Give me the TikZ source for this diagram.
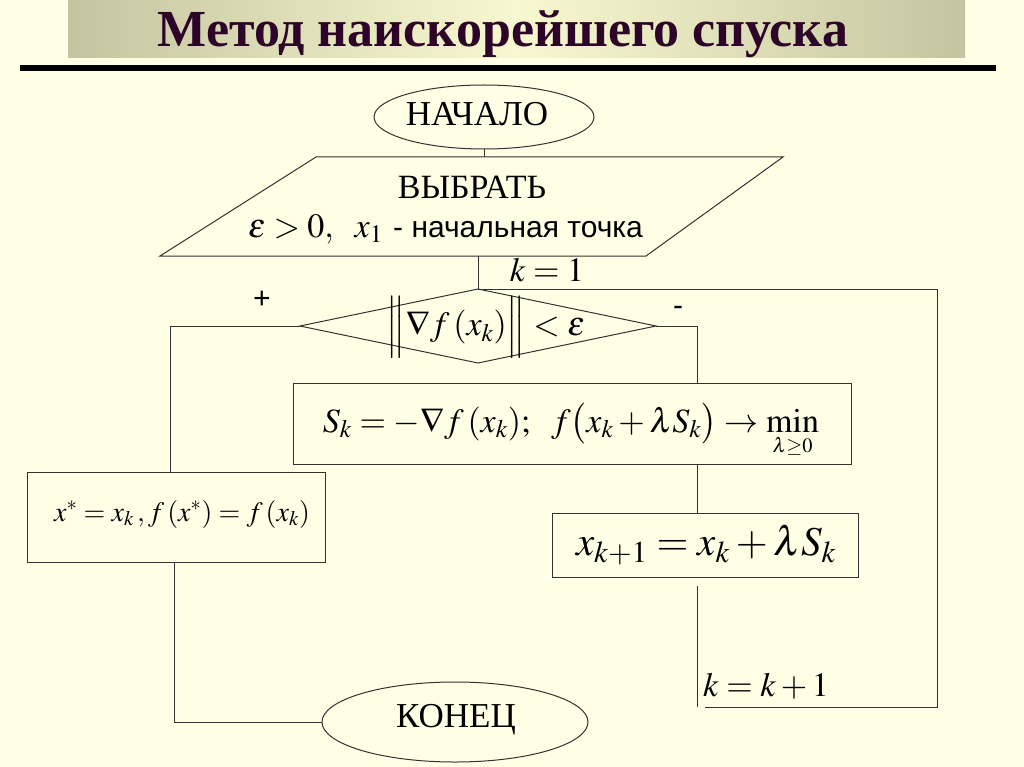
\documentclass[tikz,border=0pt]{standalone}
\usepackage{mathptmx}
\usepackage[no-math]{fontspec}
\setmainfont{Liberation Serif}
\newfontfamily\arialf{Liberation Sans}
\usetikzlibrary{shapes.geometric}
\definecolor{bg}{RGB}{255,255,230}
\definecolor{titleedge}{RGB}{196,196,160}
\definecolor{titlemid}{RGB}{248,248,208}
\definecolor{titletext}{RGB}{45,5,40}
\definecolor{ln}{RGB}{50,50,50}
\begin{document}
\begin{tikzpicture}[x=1pt,y=-1pt,
  conn/.style={draw=ln, line width=1pt},
  box/.style={draw=ln, line width=1pt, inner sep=0pt, rectangle},
  oval/.style={draw=ln, line width=1pt, inner sep=0pt, ellipse},
  txt/.style={inner sep=0pt, font=\fontsize{34}{40}\selectfont},
  sans/.style={inner sep=0pt, font=\arialf\fontsize{30}{34}\selectfont}]
\fill[bg] (0,0) rectangle (1024,767);
\useasboundingbox (0,0) rectangle (1024,767);
% title
\shade[left color=titleedge, right color=titleedge, middle color=titlemid] (68,0) rectangle (965,58);
\node[inner sep=0pt, font=\fontsize{52}{60}\selectfont\bfseries, text=titletext] (title) at (503,34) {Метод наискорейшего спуска};
\draw[line width=6pt] (20,68) -- (996,68);
% start
\node[oval, minimum width=220pt, minimum height=64pt] (start) at (484,117) {};
\node[txt, font=\fontsize{35}{40}\selectfont] (startt) at (477,114) {НАЧАЛО};
% input parallelogram
\coordinate (pa) at (316,157);
\coordinate (pb) at (783,157);
\coordinate (pc) at (646,256);
\coordinate (pd) at (160,256);
\coordinate (ptop) at (484,157);
\coordinate (pbot) at (478,256);
\draw[conn] (pa) -- (pb) -- (pc) -- (pd) -- cycle;
\node[txt] (choose) at (472,187) {ВЫБРАТЬ};
\node[txt, anchor=base west] (eps) at (248,237) {$\varepsilon>0,\ \ x_1$};
\node[sans, anchor=base west] (initpt) at (393,237) {- начальная точка};
\node[txt] (kone) at (547,270) {$k=1$};
% condition diamond
\coordinate (dT) at (478,289);
\coordinate (dR) at (656,326);
\coordinate (dB) at (478,363);
\coordinate (dL) at (300,326);
\draw[conn] (dT) -- (dR) -- (dB) -- (dL) -- cycle;
\node[txt] (cond) at (486,327) {$\left\|\vrule height 35pt depth 21pt width 0pt\nabla f\,(x_k)\right\| < \varepsilon$};
\node[sans] (plus) at (262,300) {+};
\node[sans] (minus) at (678,311) {-};
% direction box
\node[box, minimum width=558pt, minimum height=81pt] (dir) at (572,423.5) {};
\node[txt, anchor=base] (dirf) at (571,432) {$S_k = -\nabla f\,(x_k);\ \ f\bigl(x_k + \lambda S_k\bigr) \to \min\limits_{\scriptscriptstyle\lambda\ge 0}$};
% result box
\node[box, minimum width=298pt, minimum height=90pt] (res) at (176,517) {};
\node[txt, font=\fontsize{28}{32}\selectfont] (resf) at (182,514) {$x^{*} = x_k\,, f\,(x^{*}) = f\,(x_k)$};
% update box
\node[box, minimum width=306pt, minimum height=64pt] (upd) at (705,545) {};
\node[txt, font=\fontsize{41}{46}\selectfont] (updf) at (706,545) {$x_{k+1} = x_k + \lambda S_k$};
% k = k+1
\node[txt, anchor=west] (kinc) at (703,686) {$k=k+1$};
% end
\node[oval, minimum width=266pt, minimum height=80pt] (end) at (455,722) {};
\node[txt, font=\fontsize{35}{40}\selectfont] (endt) at (456,720) {КОНЕЦ};
% connectors
\coordinate (lc) at (170,326);
\coordinate (lb) at (174,722);
\coordinate (rc) at (697,326);
\coordinate (g1) at (697,586);
\coordinate (g2) at (697,707);
\coordinate (h1) at (705,707);
\coordinate (fb) at (937,707);
\draw[conn] (start.south) -- (ptop);
\draw[conn] (pbot) -- (dT);
\draw[conn] (dL) -- (lc) -- (lc |- res.north);
\draw[conn] (lb |- res.south) -- (lb) -- (end.west);
\draw[conn] (dR) -- (rc) -- (rc |- dir.north);
\draw[conn] (rc |- dir.south) -- (rc |- upd.north);
\draw[conn] (g1) -- (g2);
\draw[conn] (h1) -- (fb) -- (fb |- dT) -- (dT);
\end{tikzpicture}
\end{document}
